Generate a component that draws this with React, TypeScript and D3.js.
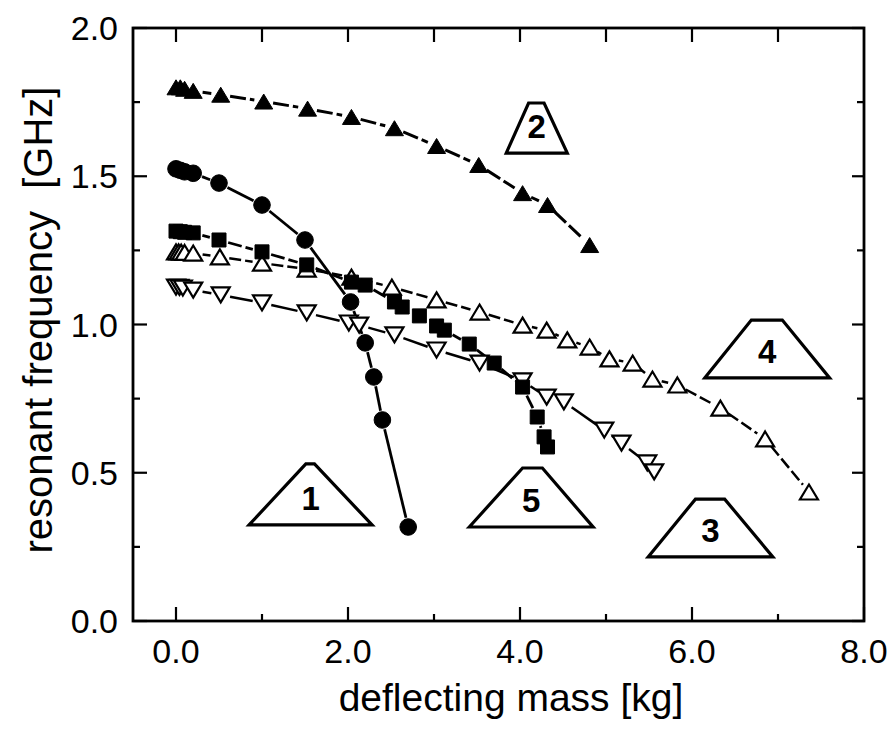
import React from "react";
import * as d3 from "d3";

// ---- data ----
const xTicksMajor = [0, 2, 4, 6, 8];
const xTickLabels = ["0.0", "2.0", "4.0", "6.0", "8.0"];
const yTicksMajor = [0, 0.5, 1.0, 1.5, 2.0];
const yTickLabels = ["0.0", "0.5", "1.0", "1.5", "2.0"];

// series 1: filled circles
const s1x = [0, 0.05, 0.1, 0.2, 0.5, 1.0, 1.5, 2.03, 2.2, 2.3, 2.4, 2.7];
const s1y = [1.525, 1.52, 1.515, 1.51, 1.477, 1.403, 1.285, 1.076, 0.938, 0.823, 0.678, 0.317];

// series 2: filled up-triangles
const s2x = [0, 0.05, 0.1, 0.2, 0.52, 1.02, 1.53, 2.04, 2.54, 3.03, 3.52, 4.03, 4.32, 4.81];
const s2y = [1.8, 1.8, 1.795, 1.788, 1.775, 1.752, 1.728, 1.7, 1.662, 1.602, 1.538, 1.443, 1.403, 1.268];

// series 3: open down-triangles
const s3x = [0, 0.04, 0.08, 0.2, 0.52, 1.0, 1.52, 2.01, 2.13, 2.54, 3.03, 3.53, 4.03, 4.31, 4.51, 4.98, 5.18, 5.48, 5.56];
const s3y = [1.126, 1.125, 1.123, 1.116, 1.1, 1.073, 1.039, 1.005, 0.998, 0.965, 0.914, 0.87, 0.81, 0.755, 0.739, 0.644, 0.6, 0.533, 0.503];

// series 4: open up-triangles
const s4x = [0, 0.03, 0.06, 0.1, 0.2, 0.51, 1.0, 1.52, 2.04, 2.51, 3.03, 3.53, 4.03, 4.31, 4.55, 4.81, 5.04, 5.31, 5.54, 5.83, 6.33, 6.85, 7.36];
const s4y = [1.245, 1.245, 1.244, 1.243, 1.241, 1.228, 1.207, 1.187, 1.16, 1.126, 1.083, 1.042, 0.998, 0.981, 0.948, 0.924, 0.884, 0.87, 0.816, 0.796, 0.718, 0.614, 0.435];

// series 5: filled squares
const s5x = [0, 0.05, 0.1, 0.2, 0.5, 1.0, 1.52, 2.04, 2.2, 2.54, 2.63, 2.83, 3.03, 3.12, 3.41, 3.7, 4.03, 4.2, 4.28, 4.32];
const s5y = [1.315, 1.313, 1.311, 1.309, 1.285, 1.245, 1.201, 1.143, 1.133, 1.076, 1.059, 1.029, 0.995, 0.981, 0.934, 0.87, 0.789, 0.688, 0.621, 0.587];

// trapezoid annotations (in data coordinates)
const labelTexts = ["1", "2", "3", "4", "5"];
const labelBottomLeft = [0.85, 3.84, 5.49, 6.15, 3.41];
const labelBottomRight = [2.28, 4.55, 6.94, 7.6, 4.85];
const labelTopLeft = [1.51, 4.1, 6.04, 6.69, 4.03];
const labelTopRight = [1.61, 4.28, 6.38, 7.05, 4.26];
const labelBottomY = [0.324, 1.578, 0.216, 0.82, 0.317];
const labelTopY = [0.53, 1.747, 0.411, 1.015, 0.516];

const W = 893;
const H = 735;
const M = { left: 133, right: 864, top: 28, bottom: 621 };

const x = d3.scaleLinear().domain([-0.5, 8]).range([M.left, M.right]);
const y = d3.scaleLinear().domain([0, 2]).range([M.bottom, M.top]);

type Marker = "circle" | "triUp" | "triDown" | "square";

function markerPath(m: Marker, cx: number, cy: number): string {
  if (m === "triUp") {
    const w = 18, h = 15;
    return `M${cx},${cy - h / 2}L${cx + w / 2},${cy + h / 2}L${cx - w / 2},${cy + h / 2}Z`;
  }
  if (m === "triDown") {
    const w = 18, h = 15;
    return `M${cx},${cy + h / 2}L${cx + w / 2},${cy - h / 2}L${cx - w / 2},${cy - h / 2}Z`;
  }
  if (m === "square") {
    const s = 14;
    return `M${cx - s / 2},${cy - s / 2}h${s}v${s}h${-s}Z`;
  }
  const r = 8.3;
  return `M${cx - r},${cy}a${r},${r} 0 1,0 ${2 * r},0a${r},${r} 0 1,0 ${-2 * r},0Z`;
}

function segments(xs: number[], ys: number[], gap: number) {
  const segs: { x1: number; y1: number; x2: number; y2: number }[] = [];
  for (let i = 0; i < xs.length - 1; i++) {
    const ax = x(xs[i]), ay = y(ys[i]), bx = x(xs[i + 1]), by = y(ys[i + 1]);
    const dx = bx - ax, dy = by - ay;
    const d = Math.hypot(dx, dy);
    if (d <= gap * 2 + 2) continue;
    const ux = dx / d, uy = dy / d;
    segs.push({ x1: ax + ux * gap, y1: ay + uy * gap, x2: bx - ux * gap, y2: by - uy * gap });
  }
  return segs;
}

const series: { xs: number[]; ys: number[]; marker: Marker; filled: boolean; dash?: string; lw: number }[] = [
  { xs: s4x, ys: s4y, marker: "triUp", filled: false, dash: "12 4", lw: 2.5 },
  { xs: s3x, ys: s3y, marker: "triDown", filled: false, lw: 2.5 },
  { xs: s5x, ys: s5y, marker: "square", filled: true, dash: "14 4", lw: 2.8 },
  { xs: s1x, ys: s1y, marker: "circle", filled: true, lw: 2.8 },
  { xs: s2x, ys: s2y, marker: "triUp", filled: true, dash: "16 4", lw: 3 },
];

const FONT = "'Liberation Sans', Arial, Helvetica, sans-serif";

export default function App() {
  const xMinor = d3.range(0, 8, 1).filter((v) => v % 2 === 1);
  const xTop = d3.range(0, 8, 1);
  const yMinor = [0.25, 0.75, 1.25, 1.75];

  return (
    <svg
      width={W}
      height={H}
      style={{ position: "absolute", left: 0, top: 0, background: "#fff" }}
      fontFamily={FONT}
    >
      <rect x={0} y={0} width={W} height={H} fill="#fff" />

      {/* lines */}
      {series.map((s, si) => (
        <g key={"l" + si} stroke="#000" strokeWidth={s.lw} strokeDasharray={s.dash} fill="none">
          {segments(s.xs, s.ys, 9.5).map((g, i) => (
            <line key={i} x1={g.x1} y1={g.y1} x2={g.x2} y2={g.y2} />
          ))}
        </g>
      ))}

      {/* markers */}
      {series.map((s, si) => (
        <g key={"m" + si}>
          {s.xs.map((xv, i) => (
            <path
              key={i}
              d={markerPath(s.marker, x(xv), y(s.ys[i]))}
              fill={s.filled ? "#000" : "#fff"}
              stroke="#000"
              strokeWidth={s.filled ? 1 : 2.2}
              strokeLinejoin="miter"
            />
          ))}
        </g>
      ))}

      {/* trapezoid labels */}
      {labelTexts.map((t, i) => {
        const xb1 = x(labelBottomLeft[i]);
        const xb2 = x(labelBottomRight[i]);
        const xt1 = x(labelTopLeft[i]);
        const xt2 = x(labelTopRight[i]);
        const yb = y(labelBottomY[i]);
        const yt = y(labelTopY[i]);
        return (
          <g key={"lab" + i}>
            <path
              d={`M${xb1},${yb}L${xt1},${yt}L${xt2},${yt}L${xb2},${yb}Z`}
              fill="#fff"
              stroke="#000"
              strokeWidth={3.2}
              strokeLinejoin="miter"
            />
            <text
              x={(xb1 + xb2) / 2}
              y={yb - 15}
              textAnchor="middle"
              fontSize={33}
              fontWeight="bold"
            >
              {t}
            </text>
          </g>
        );
      })}

      {/* frame */}
      <rect
        x={M.left}
        y={M.top}
        width={M.right - M.left}
        height={M.bottom - M.top}
        fill="none"
        stroke="#000"
        strokeWidth={2.8}
      />

      {/* ticks */}
      <g stroke="#000" strokeWidth={2.2}>
        {xTicksMajor.map((v) => (
          <line key={"xb" + v} x1={x(v)} x2={x(v)} y1={M.bottom} y2={M.bottom - 14} />
        ))}
        {xMinor.map((v) => (
          <line key={"xbm" + v} x1={x(v)} x2={x(v)} y1={M.bottom} y2={M.bottom - 7} />
        ))}
        {xTop.map((v) => (
          <line key={"xt" + v} x1={x(v)} x2={x(v)} y1={M.top} y2={M.top + 14} />
        ))}
        {yTicksMajor.map((v) => (
          <g key={"yl" + v}>
            <line x1={M.left} x2={M.left + 14} y1={y(v)} y2={y(v)} />
            <line x1={M.right} x2={M.right - 12} y1={y(v)} y2={y(v)} />
          </g>
        ))}
        {yMinor.map((v) => (
          <g key={"ym" + v}>
            <line x1={M.left} x2={M.left + 7} y1={y(v)} y2={y(v)} />
            <line x1={M.right} x2={M.right - 7} y1={y(v)} y2={y(v)} />
          </g>
        ))}
      </g>

      {/* tick labels */}
      {xTicksMajor.map((v, i) => (
        <text key={"xtl" + v} x={x(v)} y={663} textAnchor="middle" fontSize={34}>
          {xTickLabels[i]}
        </text>
      ))}
      {yTicksMajor.map((v, i) => (
        <text key={"ytl" + v} x={118} y={y(v) + 12} textAnchor="end" fontSize={34}>
          {yTickLabels[i]}
        </text>
      ))}

      {/* axis titles */}
      <text x={511} y={711} textAnchor="middle" fontSize={39}>
        deflecting mass [kg]
      </text>
      <text
        transform={`translate(52,320) rotate(-90)`}
        textAnchor="middle"
        fontSize={40}
        style={{ whiteSpace: "pre" }}
      >
        {"resonant frequency  [GHz]"}
      </text>
    </svg>
  );
}
